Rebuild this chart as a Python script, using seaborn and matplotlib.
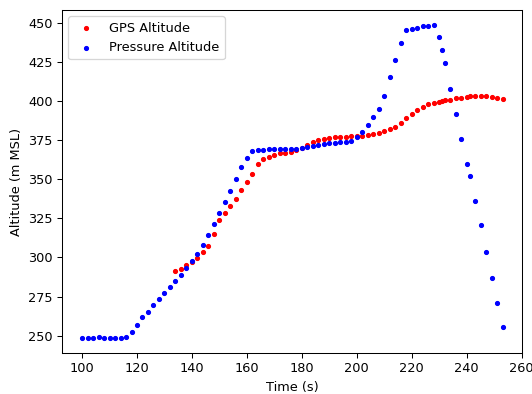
import matplotlib
matplotlib.use("Agg")
import matplotlib.pyplot as plt
import seaborn as sns
import pandas as pd

time_s = [100, 102, 104, 106, 108, 110, 112, 114, 116, 118,
          120, 122, 124, 126, 128, 130, 132, 134, 136, 138,
          140, 142, 144, 146, 148, 150, 152, 154, 156, 158,
          160, 162, 164, 166, 168, 170, 172, 174, 176, 178,
          180, 182, 184, 186, 188, 190, 192, 194, 196, 198,
          200, 202, 204, 206, 208, 210, 212, 214, 216, 218,
          220, 222, 224, 226, 228, 230, 231, 232, 234, 236,
          238, 240, 241, 243, 245, 247, 249, 251, 253]

pressure_alt = [248.5, 248.5, 248.6, 249.2, 248.5, 248.5, 248.5, 248.5, 248.9, 252.6,
                256.7, 261.7, 265.3, 269.4, 273.6, 277.3, 281.3, 285.0, 288.8, 293.5,
                298.0, 302.3, 308.2, 314.2, 321.4, 328.7, 335.7, 342.7, 350.2, 357.6,
                363.7, 367.9, 368.6, 369.0, 369.2, 369.3, 369.4, 369.4, 369.5, 369.6,
                370.0, 370.7, 371.5, 372.2, 372.8, 373.2, 373.5, 373.9, 373.8, 374.3,
                377.3, 380.1, 384.6, 389.8, 395.2, 403.5, 415.5, 426.2, 437.0, 445.3,
                446.0, 447.0, 447.9, 448.3, 448.6, 441.2, 432.7, 424.6, 407.8, 391.6,
                375.6, 360.0, 352.1, 336.2, 320.6, 303.3, 286.7, 271.1, 255.6]

gps_time_s = time_s[17:]
gps_alt = [291.4, 292.7, 295.2, 297.3, 299.8, 303.8, 307.6, 315.2, 324.2, 328.5,
           333.2, 337.4, 343.2, 348.0, 353.4, 360.0, 363.0, 364.1, 365.8, 366.7,
           366.9, 367.7, 368.8, 370.2, 372.2, 373.7, 375.2, 376.0, 376.7, 377.1,
           377.1, 377.3, 377.7, 377.9, 377.9, 378.4, 379.0, 379.5, 381.0, 382.4,
           383.5, 385.8, 389.0, 392.0, 394.3, 396.5, 398.0, 398.8, 399.5, 400.0,
           400.5, 401.0, 401.9, 402.3, 402.8, 403.3, 403.2, 403.1, 403.0, 402.6,
           402.2, 401.6]

gps_df = pd.DataFrame({"t": gps_time_s, "alt": gps_alt})
pres_df = pd.DataFrame({"t": time_s, "alt": pressure_alt})

dpi = 93
fig = plt.figure(figsize=(532 / dpi, 394 / dpi), dpi=dpi)
ax = fig.add_axes([61.7 / 532, (394 - 353.3) / 394, 460.6 / 532, 343.3 / 394])

sns.scatterplot(data=gps_df, x="t", y="alt", ax=ax, color="red", marker="o",
                s=9, linewidth=1, edgecolor="red", label="GPS Altitude")
sns.scatterplot(data=pres_df, x="t", y="alt", ax=ax, color="blue", marker="o",
                s=9, linewidth=1, edgecolor="blue", label="Pressure Altitude")

ax.set_xlim(92.6, 260.2)
ax.set_ylim(238.7, 458.3)
ax.set_xticks([100, 120, 140, 160, 180, 200, 220, 240, 260])
ax.set_yticks([250, 275, 300, 325, 350, 375, 400, 425, 450])
ax.set_xlabel("Time (s)")
ax.set_ylabel("Altitude (m MSL)")
ax.legend(loc="upper left")

fig.savefig("out.png", dpi=dpi)
